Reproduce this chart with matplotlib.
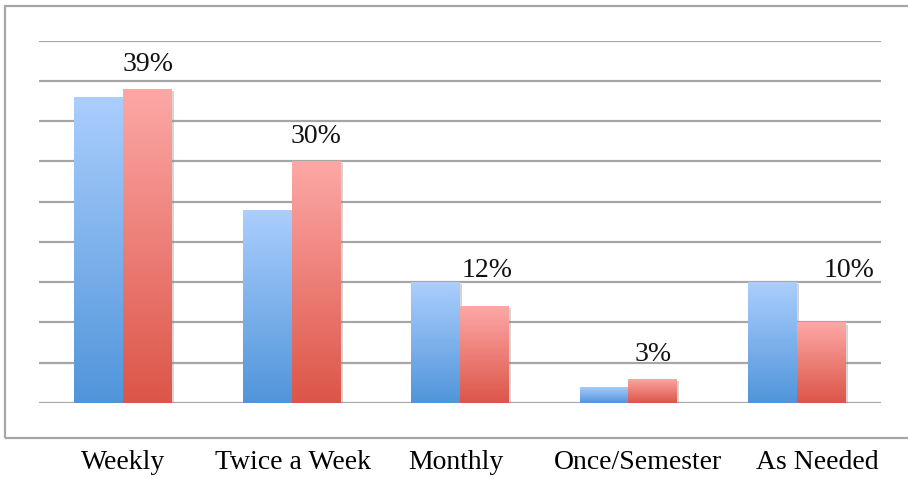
import numpy as np
import matplotlib.pyplot as plt
import matplotlib.patheffects as pe
import matplotlib.transforms as mtransforms
from matplotlib.colors import LinearSegmentedColormap
from matplotlib.patches import Rectangle

categories = ['Weekly', 'Twice a Week', 'Monthly', 'Once/Semester', 'As Needed']
blue_vals = [38, 24, 15, 2, 15]
red_vals = [39, 30, 12, 3, 10]
red_labels = ['39%', '30%', '12%', '3%', '10%']

# small horizontal nudges (points) the original layout applied to some texts
tick_nudge = [0, 1, -3, 7, 15]
label_nudge = [0, 0, 2, 0, 20]

plt.rcParams['font.family'] = ['Liberation Serif', 'DejaVu Serif']

fig = plt.figure(figsize=(9.08, 4.79), dpi=100)
ax = fig.add_axes([39 / 908, 1 - 403 / 479, 842 / 908, (403 - 40.5) / 479])

# outer frame of the chart
fig.patches.append(Rectangle((4.5 / 908, 1 - 438 / 479), 1.0, (438 - 5.5) / 479,
                             transform=fig.transFigure, fill=False,
                             edgecolor='#a6a6a6', linewidth=1.6, zorder=0))

blue_cmap = LinearSegmentedColormap.from_list('b', ['#5095da', '#abcefd'])
red_cmap = LinearSegmentedColormap.from_list('r', ['#dc5548', '#fda8a6'])

x = np.arange(len(categories))
w = 0.29
shadow = [pe.SimplePatchShadow(offset=(1.5, -1.5), shadow_rgbFace='#888888', alpha=0.35),
          pe.Normal()]
b1 = ax.bar(x - w / 2, blue_vals, w, color='#7fb2ee', zorder=3, path_effects=shadow)
b2 = ax.bar(x + w / 2, red_vals, w, color='#ee7f79', zorder=3, path_effects=shadow)

grad = np.linspace(0, 1, 256).reshape(-1, 1)
for bars, cmap in ((b1, blue_cmap), (b2, red_cmap)):
    for bar in bars:
        x0, y0 = bar.get_x(), bar.get_y()
        im = ax.imshow(grad, cmap=cmap, origin='lower', aspect='auto',
                       extent=(x0, x0 + bar.get_width(), y0, y0 + bar.get_height()),
                       zorder=4, interpolation='bicubic')
        im.set_clip_path(bar)

# labels on the red bars; lifted above the blue bar when that one is taller
for bar, bv, lab, dx in zip(b2, blue_vals, red_labels, label_nudge):
    rv = bar.get_height()
    if bv > rv:
        y, dy = bv, 3.5
    else:
        y, dy = rv, 13
    ax.annotate(lab, (bar.get_x() + bar.get_width() / 2, y),
                xytext=(dx, dy), textcoords='offset points', ha='center', va='baseline',
                fontsize=20, color='#111111', zorder=5)

ax.set_xlim(-0.5, len(categories) - 0.5)
ax.set_ylim(0, 45)
ax.set_yticks(np.arange(0, 46, 5))
ax.yaxis.grid(True, color='#a6a6a6', linewidth=1.6, zorder=1)
ax.set_axisbelow(True)
ax.tick_params(axis='y', left=False, labelleft=False)
ax.set_xticks(x)
ax.set_xticklabels(categories, fontsize=20)
ax.tick_params(axis='x', bottom=False, pad=30)
for lbl, dx in zip(ax.get_xticklabels(), tick_nudge):
    lbl.set_transform(lbl.get_transform() +
                      mtransforms.ScaledTranslation(dx / 72, 0, fig.dpi_scale_trans))
for s in ax.spines.values():
    s.set_visible(False)
ax.patch.set_alpha(0)

plt.savefig('out.png', dpi=100)
